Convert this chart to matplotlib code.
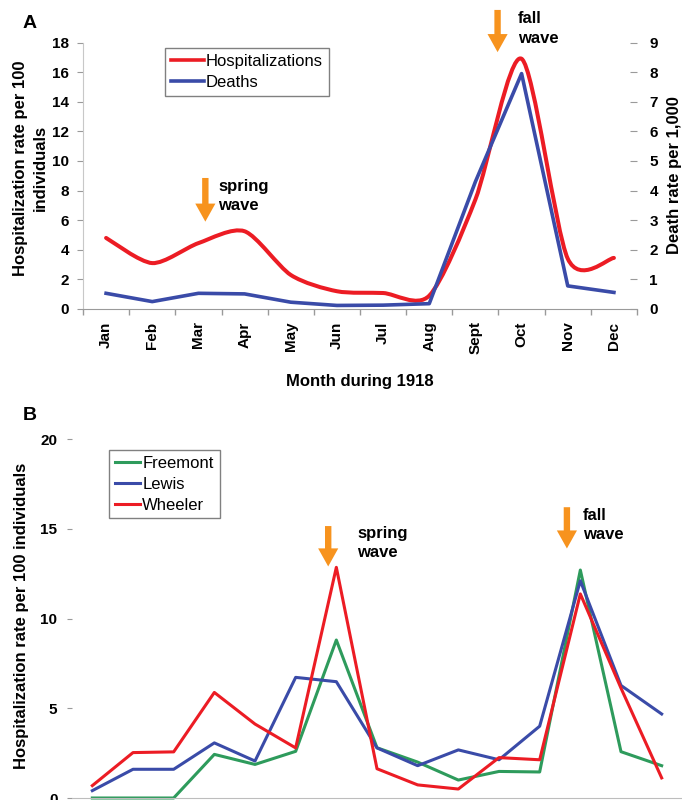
import matplotlib
matplotlib.use("Agg")
import matplotlib.pyplot as plt
from matplotlib.path import Path
from matplotlib.patches import PathPatch
from matplotlib.lines import Line2D

plt.rcParams['font.family'] = ['Liberation Sans', 'DejaVu Sans']

# ---------------- data ----------------
months = ['Jan', 'Feb', 'Mar', 'Apr', 'May', 'Jun', 'Jul', 'Aug', 'Sept', 'Oct', 'Nov', 'Dec']
hospitalizations = [4.8, 3.1, 4.45, 5.25, 2.3, 1.2, 1.08, 0.9, 7.4, 16.9, 3.4, 3.45]
deaths = [0.53, 0.25, 0.53, 0.51, 0.23, 0.12, 0.13, 0.18, 4.3, 7.95, 0.78, 0.56]

freemont = [0, 0, 0, 2.43, 1.87, 2.6, 8.8, 2.8, 2.0, 1.0, 1.48, 1.45, 12.7, 2.58, 1.8]
lewis = [0.41, 1.6, 1.6, 3.07, 2.06, 6.72, 6.48, 2.79, 1.8, 2.68, 2.13, 4.0, 12.1, 6.27, 4.68]
wheeler = [0.69, 2.53, 2.57, 5.88, 4.12, 2.79, 12.85, 1.63, 0.73, 0.5, 2.25, 2.13, 11.37, 6.12, 1.12]

RED = '#EC1C24'
BLUE = '#3A4BA8'
GREEN = '#2E9B5C'
ORANGE = '#F7931E'
GREY = '#9A9A9A'

W, H = 682, 800
fig = plt.figure(figsize=(W / 100, H / 100), dpi=100)


def rect(l, t, r, b):
    return [l / W, 1 - b / H, (r - l) / W, (b - t) / H]


def smooth_path(xs, ys, k=1 / 7.5):
    # Bezier (Catmull-Rom style) path through the data points
    verts = [(xs[0], ys[0])]
    codes = [Path.MOVETO]
    n = len(xs)
    for i in range(n - 1):
        p0 = (xs[max(i - 1, 0)], ys[max(i - 1, 0)])
        p1 = (xs[i], ys[i])
        p2 = (xs[i + 1], ys[i + 1])
        p3 = (xs[min(i + 2, n - 1)], ys[min(i + 2, n - 1)])
        c1 = (p1[0] + (p2[0] - p0[0]) * k, p1[1] + (p2[1] - p0[1]) * k)
        c2 = (p2[0] - (p3[0] - p1[0]) * k, p2[1] - (p3[1] - p1[1]) * k)
        verts += [c1, c2, p2]
        codes += [Path.CURVE4] * 3
    return Path(verts, codes)


def arrow(ax, x, y0, y1):
    ax.annotate('', xy=(x, y1), xytext=(x, y0),
                arrowprops=dict(facecolor=ORANGE, edgecolor='none', width=4.6,
                                headwidth=14.5, headlength=13, shrink=0),
                annotation_clip=False)


# ---------------- Panel A ----------------
axA = fig.add_axes(rect(83, 42.5, 637, 309))
xA = list(range(len(months)))
axA.add_patch(PathPatch(smooth_path(xA, hospitalizations), facecolor='none',
                        edgecolor=RED, lw=2.9, capstyle='round', joinstyle='round'))
axA.set_xlim(-0.5, len(months) - 0.5)
axA.set_ylim(0, 18)
axA.set_yticks(range(0, 19, 2))
axA.set_xticks(xA)
axA.set_xticklabels(months, rotation=90, fontsize=11, fontweight='bold')
axA.set_xticks([i + 0.5 for i in range(-1, len(months))], minor=True)
axA.tick_params(axis='x', which='major', length=0, pad=9)
axA.tick_params(axis='x', which='minor', length=4, color=GREY, width=1)
axA.tick_params(axis='y', length=4, color=GREY, pad=6, labelsize=11)
for lab in axA.get_yticklabels():
    lab.set_fontweight('bold')
for s in ['top', 'right']:
    axA.spines[s].set_visible(False)
axA.spines['left'].set_color('#C8C8C8')
axA.spines['bottom'].set_color(GREY)
axA.set_xlabel('Month during 1918', fontsize=12, fontweight='bold', labelpad=14)

axA2 = axA.twinx()
axA2.plot(xA, deaths, color=BLUE, lw=2.6, solid_joinstyle='round')
axA2.set_ylim(0, 9)
axA2.set_yticks(range(0, 10))
axA2.tick_params(axis='y', direction='in', length=5, color=GREY, pad=9, labelsize=11)
for lab in axA2.get_yticklabels():
    lab.set_fontweight('bold')
for s in ['top', 'right', 'left', 'bottom']:
    axA2.spines[s].set_visible(False)

handlesA = [Line2D([], [], color=RED, lw=2.6), Line2D([], [], color=BLUE, lw=2.6)]
legA = axA2.legend(handlesA, ['Hospitalizations', 'Deaths'], loc='upper left',
                   bbox_to_anchor=(165 / W, 1 - 48 / H), bbox_transform=fig.transFigure,
                   borderaxespad=0, fontsize=12, handlelength=2.0, handletextpad=0.1,
                   labelspacing=0.35, borderpad=0.35, fancybox=False, framealpha=1)
legA.get_frame().set_edgecolor('#808080')
legA.get_frame().set_linewidth(1.0)

arrow(axA, 2.15, 8.85, 5.9)
axA.text(2.43, 7.65, 'spring\nwave', fontsize=12, fontweight='bold', ha='left', va='center',
         linespacing=1.35)
arrow(axA, 8.48, 20.2, 17.35)
axA.text(8.92, 18.95, 'fall\nwave', fontsize=12, fontweight='bold', ha='left', va='center',
         linespacing=1.35, clip_on=False)

fig.text(30 / W, 1 - 168 / H, 'Hospitalization rate per 100\nindividuals', rotation=90,
         ha='center', va='center', fontsize=12, fontweight='bold', linespacing=1.4,
         multialignment='center')
fig.text(675 / W, 1 - 175 / H, 'Death rate per 1,000', rotation=90, ha='center', va='center',
         fontsize=12, fontweight='bold')
fig.text(30 / W, 1 - 23 / H, 'A', ha='center', va='center', fontsize=14, fontweight='bold')

# ---------------- Panel B ----------------
axB = fig.add_axes(rect(72, 439, 682, 798))
xB = list(range(len(wheeler)))
axB.plot(xB, freemont, color=GREEN, lw=2.2, label='Freemont', clip_on=False)
axB.plot(xB, lewis, color=BLUE, lw=2.2, label='Lewis', clip_on=False)
axB.plot(xB, wheeler, color=RED, lw=2.2, label='Wheeler', clip_on=False)
axB.set_xlim(-0.5, len(wheeler) - 0.5)
axB.set_ylim(0, 20)
axB.set_yticks(range(0, 21, 5))
axB.set_xticks([])
axB.tick_params(axis='y', length=3.5, color=GREY, pad=7, labelsize=11)
for lab in axB.get_yticklabels():
    lab.set_fontweight('bold')
for s in ['top', 'right', 'left']:
    axB.spines[s].set_visible(False)
axB.spines['bottom'].set_color('#BDBDBD')

legB = axB.legend(loc='upper left', bbox_to_anchor=(109 / W, 1 - 450 / H),
                  bbox_transform=fig.transFigure, borderaxespad=0, fontsize=12,
                  handlelength=1.5, handletextpad=0.15, labelspacing=0.35, borderpad=0.35,
                  fancybox=False, framealpha=1)
legB.get_frame().set_edgecolor('#808080')
legB.get_frame().set_linewidth(1.0)

arrow(axB, 5.8, 15.15, 12.9)
axB.text(6.51, 14.2, 'spring\nwave', fontsize=12, fontweight='bold', ha='left', va='center',
         linespacing=1.35)
arrow(axB, 11.67, 16.2, 13.9)
axB.text(12.06, 15.2, 'fall\nwave', fontsize=12, fontweight='bold', ha='left', va='center',
         linespacing=1.35)

fig.text(22 / W, 1 - 616 / H, 'Hospitalization rate per 100 individuals', rotation=90,
         ha='center', va='center', fontsize=12, fontweight='bold')
fig.text(30 / W, 1 - 415 / H, 'B', ha='center', va='center', fontsize=14, fontweight='bold')

fig.savefig('out.png', dpi=100)
